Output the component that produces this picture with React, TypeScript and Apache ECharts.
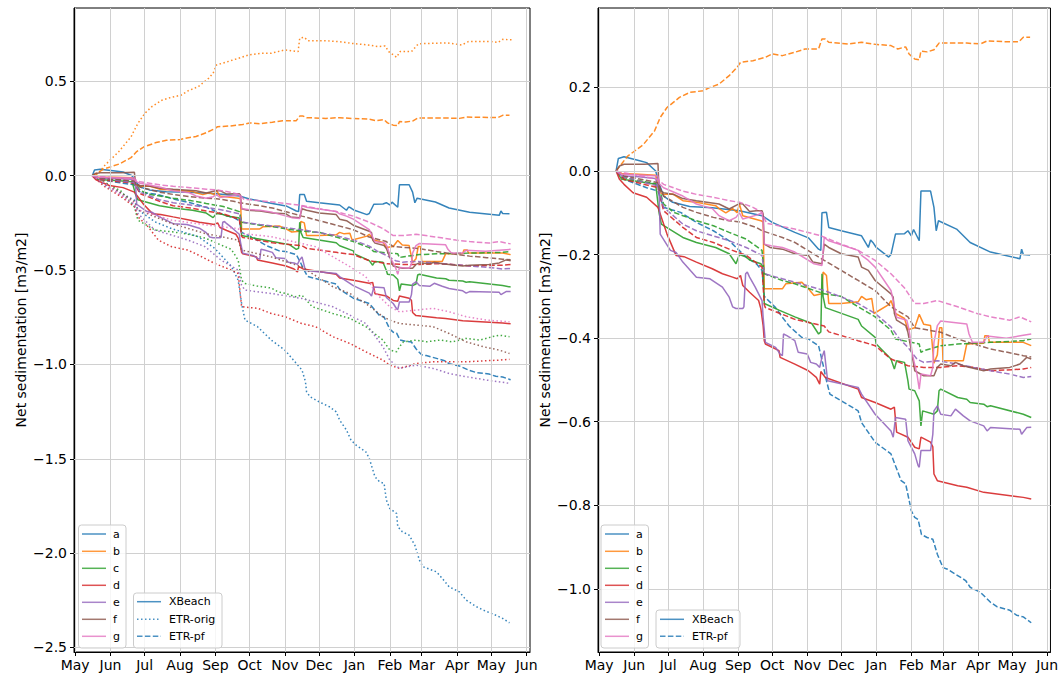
import React, { useEffect, useRef } from 'react';
import * as echarts from 'echarts';

// ---------- data ----------
const stations = ['a', 'b', 'c', 'd', 'e', 'f', 'g'];
const colors = ['#1f77b4', '#ff7f0e', '#2ca02c', '#d62728', '#9467bd', '#8c564b', '#e377c2'];
const monthDays = [0, 31, 61, 92, 123, 153, 184, 214, 245, 276, 304, 335, 365, 396];
const monthNames = ['May', 'Jun', 'Jul', 'Aug', 'Sep', 'Oct', 'Nov', 'Dec', 'Jan', 'Feb', 'Mar', 'Apr', 'May', 'Jun'];
const leftYTicks = [-2.5, -2.0, -1.5, -1.0, -0.5, 0.0, 0.5];
const rightYTicks = [-1.0, -0.8, -0.6, -0.4, -0.2, 0.0, 0.2];

// XBeach (solid) — [day since 1 May, m3/m2]
const xbA = [[15,0],[17,0.03],[22,0.034],[35,0.025],[42,0.02],[50,0.0],[53,-0.03],[57,-0.06],[65,-0.075],[80,-0.085],[100,-0.088],[124,-0.095],[144,-0.107],[153,-0.123],[173,-0.147],[185,-0.16],[194,-0.187],[196,-0.19],[197,-0.1],[201,-0.099],[203,-0.135],[214,-0.143],[232,-0.155],[238,-0.183],[240,-0.165],[242,-0.171],[245,-0.183],[256,-0.206],[258,-0.2],[262,-0.151],[270,-0.15],[273,-0.143],[276,-0.155],[278,-0.14],[283,-0.167],[284.5,-0.048],[293,-0.048],[296,-0.087],[298,-0.143],[300,-0.119],[316,-0.139],[328,-0.171],[346,-0.194],[372,-0.21],[373.5,-0.187],[375,-0.2],[381,-0.201]];
const xbB = [[15,0],[20,-0.006],[35,-0.008],[50,-0.01],[53,-0.05],[57,-0.056],[65,-0.055],[74,-0.071],[86,-0.075],[103,-0.083],[106,-0.09],[112,-0.1],[118,-0.09],[122,-0.1],[124,-0.079],[127,-0.107],[143,-0.119],[145,-0.122],[146,-0.282],[162,-0.282],[165,-0.27],[179,-0.266],[185,-0.282],[190,-0.298],[197,-0.294],[198,-0.242],[201,-0.25],[203,-0.317],[214,-0.317],[229,-0.313],[232,-0.3],[236,-0.308],[241,-0.305],[243,-0.341],[256,-0.32],[258,-0.31],[262,-0.341],[270,-0.353],[273,-0.38],[279,-0.375],[283,-0.343],[287,-0.367],[293,-0.37],[296,-0.46],[299,-0.44],[301,-0.375],[303,-0.375],[304,-0.454],[322,-0.454],[325,-0.414],[340,-0.412],[341,-0.394],[344,-0.394],[345,-0.41],[375,-0.41],[382,-0.418]];
const xbC = [[15,0],[20,-0.02],[35,-0.025],[50,-0.032],[53,-0.1],[55,-0.127],[74,-0.159],[86,-0.171],[103,-0.183],[115,-0.198],[121,-0.222],[124,-0.2],[130,-0.206],[133,-0.213],[143,-0.222],[145,-0.23],[146,-0.317],[159,-0.333],[173,-0.349],[188,-0.365],[194,-0.39],[196,-0.385],[197,-0.246],[198,-0.3],[200,-0.327],[229,-0.355],[232,-0.371],[244,-0.398],[245,-0.414],[258,-0.45],[261,-0.474],[263,-0.454],[270,-0.458],[273,-0.502],[274,-0.522],[279,-0.526],[283,-0.55],[284.5,-0.61],[286,-0.574],[296,-0.582],[299,-0.574],[300.5,-0.526],[302,-0.522],[317,-0.542],[325,-0.546],[328,-0.554],[340,-0.558],[343,-0.564],[346,-0.562],[375,-0.582],[382,-0.59]];
const xbD = [[15,0],[18,-0.02],[22,-0.032],[30,-0.052],[42,-0.063],[52,-0.087],[60,-0.151],[68,-0.202],[75,-0.205],[86,-0.218],[100,-0.234],[109,-0.246],[118,-0.254],[122,-0.258],[125,-0.25],[127,-0.274],[133,-0.29],[141,-0.31],[143,-0.33],[145,-0.37],[146,-0.406],[147,-0.414],[159,-0.43],[160,-0.446],[173,-0.462],[185,-0.478],[192,-0.494],[195,-0.51],[196,-0.48],[200,-0.494],[229,-0.522],[232,-0.542],[244,-0.554],[258,-0.57],[261,-0.565],[263,-0.625],[273,-0.637],[279,-0.661],[283,-0.665],[284.5,-0.637],[293,-0.649],[295,-0.66],[296,-0.725],[299,-0.741],[317,-0.753],[325,-0.757],[340,-0.769],[375,-0.781],[382,-0.785]];
const xbE = [[15,0],[20,-0.012],[35,-0.014],[50,-0.018],[53,-0.05],[54,-0.151],[63,-0.19],[68,-0.195],[74,-0.218],[86,-0.254],[98,-0.258],[109,-0.278],[115,-0.302],[118,-0.325],[121,-0.329],[127,-0.329],[128,-0.325],[129.5,-0.246],[131,-0.242],[133,-0.254],[138,-0.278],[144,-0.31],[145,-0.35],[147,-0.41],[156,-0.422],[160,-0.438],[162,-0.442],[163,-0.39],[166,-0.394],[173,-0.406],[176,-0.434],[184,-0.438],[187,-0.458],[192,-0.462],[195,-0.47],[197,-0.446],[199,-0.43],[202,-0.502],[229,-0.518],[232,-0.534],[244,-0.582],[258,-0.622],[260,-0.637],[262,-0.59],[271,-0.594],[273,-0.645],[279,-0.677],[282,-0.705],[283,-0.709],[284.5,-0.669],[293,-0.669],[295,-0.63],[296,-0.574],[299,-0.562],[302,-0.582],[311,-0.586],[315,-0.57],[322,-0.586],[328,-0.598],[340,-0.61],[343,-0.622],[346,-0.614],[372,-0.618],[373.5,-0.63],[378,-0.614],[382,-0.613]];
const xbF = [[15,0],[18,0.012],[22,0.016],[40,0.016],[52,0.018],[53,-0.045],[57,-0.052],[66,-0.056],[74,-0.066],[86,-0.071],[106,-0.079],[115,-0.091],[124,-0.078],[127,-0.079],[133,-0.097],[139,-0.095],[144,-0.095],[145,-0.103],[146,-0.175],[151,-0.183],[162,-0.187],[165,-0.19],[173,-0.198],[185,-0.202],[189,-0.218],[197,-0.222],[199,-0.175],[203,-0.183],[214,-0.198],[229,-0.206],[232,-0.23],[238,-0.238],[244,-0.262],[258,-0.294],[260,-0.302],[261,-0.341],[263,-0.357],[271,-0.37],[273,-0.386],[276,-0.43],[279,-0.478],[287,-0.49],[296,-0.49],[299,-0.47],[302,-0.462],[311,-0.466],[315,-0.458],[322,-0.466],[328,-0.47],[340,-0.478],[346,-0.474],[363,-0.47],[372,-0.462],[375,-0.454],[378,-0.446],[382,-0.45]];
const xbG = [[15,0],[20,-0.008],[40,-0.01],[52,-0.012],[53,-0.03],[57,-0.04],[74,-0.06],[86,-0.079],[100,-0.09],[106,-0.107],[115,-0.119],[121,-0.111],[124,-0.1],[127,-0.115],[140,-0.105],[144,-0.1],[145,-0.12],[146,-0.175],[152,-0.179],[162,-0.183],[173,-0.194],[190,-0.222],[197,-0.226],[199,-0.159],[203,-0.167],[229,-0.19],[232,-0.202],[238,-0.214],[244,-0.23],[258,-0.286],[260,-0.31],[261,-0.325],[263,-0.35],[272,-0.357],[274,-0.38],[277,-0.44],[281,-0.486],[283,-0.522],[284.5,-0.486],[293,-0.49],[295,-0.47],[296,-0.41],[299,-0.37],[302,-0.359],[325,-0.366],[327,-0.39],[330,-0.41],[340,-0.41],[343,-0.395],[360,-0.4],[375,-0.393],[382,-0.39]];

// ETR-orig (dotted)
const orgA = [[15,0],[26,-0.044],[52,-0.13],[55,-0.18],[70,-0.244],[84.5,-0.28],[108,-0.323],[122.5,-0.385],[137,-0.48],[143,-0.553],[146,-0.677],[149,-0.765],[160,-0.8],[172,-0.871],[184,-0.924],[199,-1.03],[202,-1.09],[203,-1.145],[206,-1.171],[214,-1.198],[223,-1.224],[229,-1.251],[232,-1.295],[238,-1.348],[242,-1.401],[246.5,-1.428],[255,-1.463],[258,-1.498],[263,-1.595],[267,-1.622],[271,-1.63],[273,-1.719],[276,-1.763],[282,-1.79],[283,-1.86],[287,-1.887],[293,-1.905],[298,-1.958],[302,-2.037],[305,-2.072],[317,-2.099],[322,-2.134],[328,-2.178],[337,-2.205],[343,-2.249],[352,-2.284],[358,-2.302],[369,-2.329],[375,-2.346],[381,-2.369]];
const orgB = [[15,0],[20,0.01],[26,0.055],[38,0.126],[49,0.206],[55,0.277],[61,0.33],[67,0.365],[76,0.4],[84,0.415],[93,0.427],[99,0.45],[108,0.472],[117,0.516],[121,0.543],[124,0.587],[134,0.605],[146,0.628],[152,0.64],[163,0.649],[172,0.649],[184,0.667],[195.6,0.658],[197,0.729],[201,0.734],[204,0.716],[219,0.716],[231,0.711],[242,0.702],[257,0.693],[266,0.684],[272,0.688],[275,0.658],[282,0.628],[285,0.658],[295,0.658],[301,0.699],[313,0.702],[327,0.704],[339,0.693],[345,0.711],[365,0.711],[371,0.706],[375,0.723],[383,0.72]];
const orgC = [[15,0],[26,-0.035],[40,-0.08],[52,-0.164],[55,-0.235],[70,-0.288],[85,-0.297],[99,-0.31],[114,-0.33],[128,-0.367],[137,-0.39],[143,-0.447],[146,-0.553],[149,-0.571],[160,-0.585],[172,-0.595],[178,-0.615],[184,-0.623],[193,-0.641],[199,-0.633],[208,-0.694],[226,-0.73],[241,-0.756],[255,-0.8],[270,-0.871],[276,-0.924],[282,-0.933],[284.5,-0.906],[288,-0.88],[299,-0.871],[308,-0.88],[320,-0.871],[331,-0.88],[343,-0.862],[355,-0.871],[366,-0.853],[372,-0.845],[381,-0.853]];
const orgD = [[15,0],[26,-0.058],[40,-0.11],[52,-0.164],[55,-0.217],[64,-0.27],[73,-0.341],[84.5,-0.376],[99,-0.394],[108,-0.42],[122.5,-0.465],[137,-0.5],[143,-0.518],[146,-0.694],[160.5,-0.703],[172,-0.73],[184,-0.747],[198.6,-0.783],[211,-0.8],[226,-0.853],[241,-0.889],[255,-0.933],[270,-0.977],[276,-1.004],[284.5,-1.021],[299,-0.995],[314,-0.986],[343,-0.986],[372,-0.977],[381,-0.973]];
const orgE = [[15,0],[26,-0.05],[40,-0.1],[52,-0.155],[55,-0.2],[70,-0.288],[84.5,-0.314],[99,-0.341],[114,-0.376],[128,-0.447],[143,-0.5],[146,-0.58],[149,-0.606],[172,-0.624],[198.6,-0.65],[226,-0.694],[241,-0.739],[255,-0.783],[270,-0.906],[276,-0.977],[284.5,-1.021],[299,-1.004],[314,-1.021],[328,-1.048],[343,-1.065],[361,-1.083],[381,-1.1]];
const orgF = [[15,0],[26,-0.04],[40,-0.09],[52,-0.138],[55,-0.18],[84.5,-0.253],[114,-0.306],[143,-0.341],[146,-0.394],[172,-0.43],[198.6,-0.482],[226,-0.588],[241,-0.624],[255,-0.677],[270,-0.747],[276,-0.765],[284.5,-0.783],[299,-0.791],[314,-0.8],[328,-0.836],[343,-0.88],[358,-0.906],[372,-0.924],[381,-0.942]];
const orgG = [[15,0],[26,-0.04],[40,-0.1],[52,-0.147],[55,-0.18],[84.5,-0.235],[114,-0.26],[143,-0.28],[146,-0.306],[172,-0.323],[198.6,-0.359],[211,-0.376],[226,-0.429],[241,-0.482],[255,-0.535],[264,-0.624],[276,-0.694],[284.5,-0.721],[299,-0.712],[314,-0.703],[328,-0.721],[343,-0.747],[361,-0.765],[381,-0.774]];

// ETR-pf (dashed)
const pfA = [[15,0],[22,-0.02],[42,-0.04],[52,-0.048],[57,-0.087],[72,-0.099],[86,-0.123],[101,-0.143],[115,-0.167],[130,-0.206],[139,-0.222],[144,-0.238],[146,-0.3],[156,-0.327],[162,-0.35],[168,-0.371],[179,-0.398],[185,-0.402],[194,-0.418],[198,-0.464],[201,-0.502],[204,-0.534],[214,-0.55],[229,-0.574],[232,-0.602],[244,-0.649],[258,-0.677],[267,-0.741],[271,-0.749],[276,-0.813],[279,-0.829],[282,-0.834],[285,-0.87],[290,-0.877],[295,-0.881],[299,-0.917],[304,-0.949],[308,-0.953],[317,-0.968],[324,-0.98],[328,-0.996],[337,-1.008],[346,-1.032],[352,-1.043],[363,-1.051],[369,-1.063],[375,-1.067],[382,-1.081]];
const pfB = [[15,0],[25,0.035],[39,0.063],[49,0.096],[54,0.128],[60,0.152],[71,0.176],[80,0.188],[92,0.192],[98,0.2],[106,0.208],[115,0.228],[122,0.248],[125,0.26],[136,0.264],[147,0.272],[153,0.28],[162,0.276],[173,0.284],[182,0.292],[194,0.292],[197,0.316],[200,0.316],[203,0.308],[220,0.304],[232,0.308],[244,0.303],[258,0.3],[264,0.292],[271,0.297],[274,0.28],[279,0.268],[283,0.266],[284.5,0.287],[290,0.285],[296,0.29],[300.5,0.306],[314,0.306],[325,0.306],[337,0.304],[343,0.311],[363,0.309],[371,0.309],[375,0.32],[381,0.32]];
const pfC = [[15,0],[22,-0.016],[52,-0.032],[57,-0.079],[66,-0.099],[86,-0.119],[101,-0.131],[115,-0.147],[130,-0.163],[144,-0.19],[146,-0.246],[162,-0.262],[173,-0.27],[199,-0.294],[214,-0.3],[229,-0.325],[244,-0.349],[258,-0.381],[262,-0.402],[283,-0.414],[284.5,-0.434],[287,-0.43],[302,-0.418],[317,-0.414],[346,-0.41],[375,-0.406],[382,-0.402]];
const pfD = [[15,0],[22,-0.02],[52,-0.04],[57,-0.095],[74,-0.135],[86,-0.159],[101,-0.171],[115,-0.187],[130,-0.202],[144,-0.23],[146,-0.32],[147,-0.327],[162,-0.343],[173,-0.355],[199,-0.371],[203,-0.385],[229,-0.406],[244,-0.418],[258,-0.45],[273,-0.466],[287,-0.47],[302,-0.47],[317,-0.466],[331,-0.47],[346,-0.478],[375,-0.474],[382,-0.47]];
const pfE = [[15,0],[22,-0.014],[52,-0.036],[57,-0.087],[74,-0.127],[86,-0.143],[115,-0.167],[130,-0.183],[144,-0.202],[146,-0.246],[162,-0.258],[173,-0.266],[199,-0.286],[229,-0.317],[244,-0.341],[258,-0.373],[265,-0.4],[273,-0.422],[281,-0.45],[287,-0.458],[299,-0.454],[317,-0.462],[331,-0.47],[346,-0.478],[363,-0.486],[375,-0.494],[382,-0.492]];
const pfF = [[15,0],[22,-0.012],[52,-0.028],[57,-0.06],[74,-0.087],[86,-0.099],[101,-0.111],[115,-0.119],[124,-0.122],[139,-0.135],[144,-0.143],[162,-0.159],[173,-0.171],[199,-0.214],[214,-0.238],[229,-0.262],[244,-0.286],[258,-0.325],[273,-0.349],[279,-0.375],[302,-0.386],[317,-0.402],[331,-0.414],[346,-0.426],[361,-0.434],[375,-0.442],[382,-0.445]];
const pfG = [[15,0],[22,-0.004],[52,-0.02],[57,-0.032],[74,-0.048],[86,-0.056],[101,-0.063],[115,-0.071],[124,-0.075],[136,-0.087],[144,-0.099],[148,-0.125],[173,-0.139],[196,-0.155],[214,-0.175],[229,-0.19],[244,-0.214],[258,-0.246],[270,-0.28],[279,-0.317],[287,-0.317],[299,-0.31],[317,-0.325],[334,-0.341],[346,-0.349],[363,-0.357],[372,-0.349],[382,-0.361]];

const xbeach = [xbA, xbB, xbC, xbD, xbE, xbF, xbG];
const etrOrig = [orgA, orgB, orgC, orgD, orgE, orgF, orgG];
const etrPf = [pfA, pfB, pfC, pfD, pfE, pfF, pfG];

// ---------- styling ----------
const FONT = 'DejaVu Sans';
const DASHED = [5.5, 2.4];
const DOTTED = [1.5, 2.5];
const LINE_W = 1.5;

const fmtY = (v: number) => {
  const r = Math.round(v * 10) / 10;
  const s = Math.abs(r).toFixed(1);
  return r < 0 ? '\u2212' + s : s;
};
const fmtX = (v: number) => {
  const i = monthDays.indexOf(Math.round(v));
  return i >= 0 ? monthNames[i] : '';
};

function makeXAxis(gi: number) {
  return {
    type: 'value', gridIndex: gi, min: -1, max: 399,
    splitLine: { show: false },
    axisLine: { show: true, onZero: false, lineStyle: { color: '#000', width: 1 } },
    axisTick: { show: true, customValues: monthDays, length: 4, lineStyle: { color: '#000' } },
    axisLabel: { customValues: monthDays, formatter: fmtX, color: '#000', fontSize: 14, fontFamily: FONT, margin: 6 },
  };
}
function makeYAxis(gi: number, min: number, max: number, ticks: number[], gap: number) {
  return {
    type: 'value', gridIndex: gi, min, max,
    splitLine: { show: false },
    axisLine: { show: true, onZero: false, lineStyle: { color: '#000', width: 1 } },
    axisTick: { show: true, customValues: ticks, length: 4, lineStyle: { color: '#000' } },
    axisLabel: { customValues: ticks, formatter: fmtY, color: '#000', fontSize: 14, fontFamily: FONT, margin: 7 },
    name: 'Net sedimentation [m3/m2]', nameLocation: 'middle', nameGap: gap,
    nameTextStyle: { fontSize: 14, color: '#000', fontFamily: FONT },
  };
}

function gridLines(gi: number, yTicks: number[]) {
  return {
    type: 'line', xAxisIndex: gi, yAxisIndex: gi, data: [], silent: true, z: 1,
    markLine: {
      symbol: ['none', 'none'], silent: true, animation: false,
      label: { show: false }, emphasis: { disabled: true },
      lineStyle: { color: '#d0d0d0', width: 1, type: 'solid' },
      data: [...monthDays.map((d) => ({ xAxis: d })), ...yTicks.map((v) => ({ yAxis: v }))],
    },
  };
}

function lineSeries(name: string, gi: number, data: number[][], color: string, type: any) {
  return {
    name, type: 'line', xAxisIndex: gi, yAxisIndex: gi, data,
    showSymbol: false, symbol: 'none', silent: true, z: 2,
    lineStyle: { width: LINE_W, color, type, opacity: 0.9, cap: 'butt' },
  };
}

function legendGraphics() {
  const els: any[] = [];
  const rowsY = [534, 551.3, 568.3, 585.3, 602.3, 619.3, 636.3];
  const boxStyle = { fill: 'rgba(255,255,255,0.8)', stroke: '#cccccc', lineWidth: 1 };
  const textStyle = (text: string, x: number, y: number) => ({
    type: 'text', x, y, silent: true,
    style: { text, fill: '#000', font: `11px ${FONT}`, textAlign: 'left', textVerticalAlign: 'middle', verticalAlign: 'middle' },
  });
  const line = (x1: number, x2: number, y: number, color: string, dash: any) => ({
    type: 'line', silent: true, shape: { x1, y1: y, x2, y2: y },
    style: { stroke: color, lineWidth: LINE_W, lineDash: dash, opacity: 0.8 },
  });
  const panels = [
    { box1: [78.5, 525, 47.5, 123], lx: [82, 106], tx: 113, box2: [133.5, 593, 88.5, 55], l2x: [137, 161], t2x: 169, types: [['XBeach', null], ['ETR-orig', DOTTED], ['ETR-pf', DASHED]], rows2: [601.7, 619.3, 636.3] },
    { box1: [601, 525, 47.5, 123], lx: [605, 629], tx: 636, box2: [656, 610, 84, 38], l2x: [660, 684], t2x: 692, types: [['XBeach', null], ['ETR-pf', DASHED]], rows2: [619.3, 636.3] },
  ];
  panels.forEach((p: any) => {
    els.push({ type: 'rect', silent: true, shape: { x: p.box1[0], y: p.box1[1], width: p.box1[2], height: p.box1[3], r: 3 }, style: boxStyle, z: 10 });
    stations.forEach((s, i) => {
      els.push({ ...line(p.lx[0], p.lx[1], rowsY[i], colors[i], null), z: 11 });
      els.push({ ...textStyle(s, p.tx, rowsY[i]), z: 11 });
    });
    els.push({ type: 'rect', silent: true, shape: { x: p.box2[0], y: p.box2[1], width: p.box2[2], height: p.box2[3], r: 3 }, style: boxStyle, z: 10 });
    p.types.forEach((t: any, i: number) => {
      els.push({ ...line(p.l2x[0], p.l2x[1], p.rows2[i], colors[0], t[1]), z: 11 });
      els.push({ ...textStyle(t[0], p.t2x, p.rows2[i]), z: 11 });
    });
  });
  return els;
}

function buildOption() {
  const series: any[] = [gridLines(0, leftYTicks), gridLines(1, rightYTicks)];
  stations.forEach((s, i) => {
    series.push(lineSeries(`${s} XBeach L`, 0, xbeach[i], colors[i], 'solid'));
    series.push(lineSeries(`${s} ETR-orig L`, 0, etrOrig[i], colors[i], DOTTED));
    series.push(lineSeries(`${s} ETR-pf L`, 0, etrPf[i], colors[i], DASHED));
    series.push(lineSeries(`${s} XBeach R`, 1, xbeach[i], colors[i], 'solid'));
    series.push(lineSeries(`${s} ETR-pf R`, 1, etrPf[i], colors[i], DASHED));
  });
  return {
    animation: false,
    backgroundColor: '#ffffff',
    grid: [
      { left: 74, top: 8, width: 456, height: 644, show: true, borderColor: '#000', borderWidth: 1, backgroundColor: 'transparent' },
      { left: 598, top: 8, width: 456, height: 644, show: true, borderColor: '#000', borderWidth: 1, backgroundColor: 'transparent' },
    ],
    xAxis: [makeXAxis(0), makeXAxis(1)],
    yAxis: [
      makeYAxis(0, -2.524, 0.889, leftYTicks, 46),
      makeYAxis(1, -1.151, 0.39, rightYTicks, 46),
    ],
    series,
    graphic: legendGraphics(),
  };
}

export default function App() {
  const ref = useRef<HTMLDivElement>(null);
  useEffect(() => {
    if (!ref.current) return;
    const chart = echarts.init(ref.current, null, { renderer: 'svg', width: 1061, height: 675 });
    chart.setOption(buildOption() as any);
    return () => chart.dispose();
  }, []);
  return <div ref={ref} style={{ position: 'absolute', left: 0, top: 0, width: 1061, height: 675 }} />;
}
